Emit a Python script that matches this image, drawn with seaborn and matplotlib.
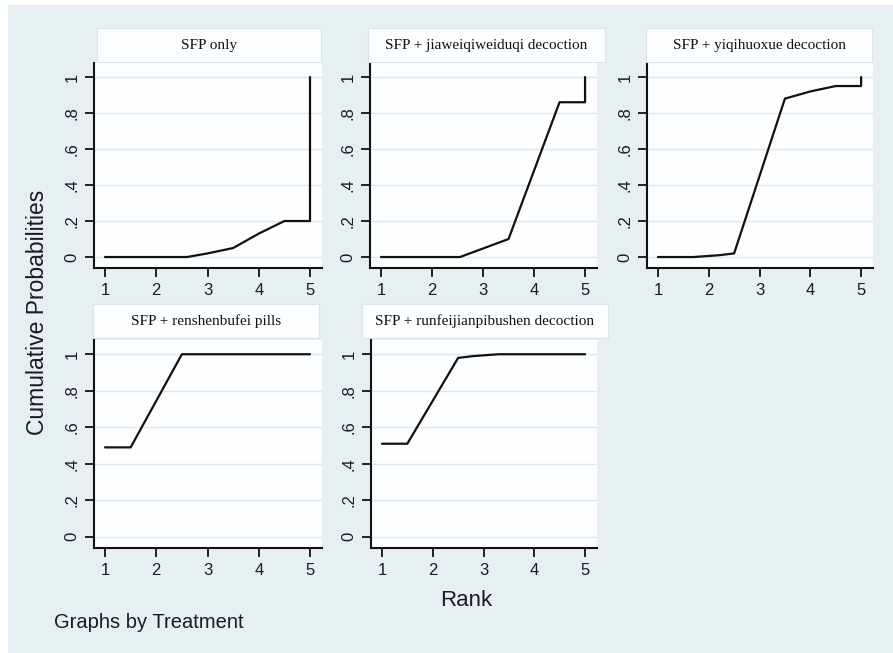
"""Cumulative rank probability curves, one panel per treatment (Stata style)."""

import matplotlib

matplotlib.use("Agg")
import matplotlib.pyplot as plt
import pandas as pd
import seaborn as sns
from matplotlib.patches import Rectangle

TREATMENTS = [
    "SFP only",
    "SFP + jiaweiqiweiduqi decoction",
    "SFP + yiqihuoxue decoction",
    "SFP + renshenbufei pills",
    "SFP + runfeijianpibushen decoction",
]

# curve vertices (rank, cumulative probability)
sfp_only_rank = [1, 2.6, 3.0, 3.5, 4.0, 4.5, 5.0, 5.0]
sfp_only_prob = [0, 0, 0.02, 0.05, 0.13, 0.20, 0.20, 1.0]

jiawei_rank = [1, 2.55, 3.5, 4.5, 5.0, 5.0]
jiawei_prob = [0, 0, 0.10, 0.86, 0.86, 1.0]

yiqi_rank = [1, 1.7, 2.2, 2.5, 3.5, 4.0, 4.5, 5.0, 5.0]
yiqi_prob = [0, 0, 0.01, 0.02, 0.88, 0.92, 0.95, 0.95, 1.0]

renshen_rank = [1, 1.5, 2.5, 5.0]
renshen_prob = [0.49, 0.49, 1.0, 1.0]

runfei_rank = [1, 1.5, 2.5, 2.8, 3.3, 5.0]
runfei_prob = [0.51, 0.51, 0.98, 0.99, 1.0, 1.0]

X_TICKS = [1, 2, 3, 4, 5]
Y_TICKS = [0, 0.2, 0.4, 0.6, 0.8, 1.0]
Y_TICK_LABELS = ["0", ".2", ".4", ".6", ".8", "1"]

BG = "#e7eff3"
GRID = "#dbe8ef"
W, H = 893, 653

# plot regions in pixels: left, right, top, bottom
PANELS = [
    (94, 322, 63, 268),
    (370, 597, 63, 268),
    (647, 873, 63, 268),
    (94, 322, 340, 548),
    (371, 597, 340, 548),
]
# title strips in pixels: left, right, top, bottom
STRIPS = [
    (97, 321, 28, 62),
    (368, 605, 28, 62),
    (646, 872, 28, 62),
    (93, 319, 304, 338),
    (362, 608, 304, 338),
]


def frac(left, right, top, bottom):
    return [left / W, 1 - bottom / H, (right - left) / W, (bottom - top) / H]


def main() -> None:
    sns.set_theme(style="white")
    plt.rcParams["font.family"] = ["Liberation Sans", "DejaVu Sans"]

    curves = [
        (sfp_only_rank, sfp_only_prob),
        (jiawei_rank, jiawei_prob),
        (yiqi_rank, yiqi_prob),
        (renshen_rank, renshen_prob),
        (runfei_rank, runfei_prob),
    ]
    frames = []
    for name, (rank, prob) in zip(TREATMENTS, curves):
        frames.append(pd.DataFrame({"Treatment": name, "Rank": rank, "Prob": prob}))
    df = pd.concat(frames, ignore_index=True)

    fig = plt.figure(figsize=(W / 100, H / 100), dpi=100, facecolor="white")
    fig.patches.append(
        Rectangle((8 / W, 0), 1, 1 - 5 / H, transform=fig.transFigure,
                  facecolor=BG, edgecolor="none", zorder=-10)
    )

    for name, box, strip in zip(TREATMENTS, PANELS, STRIPS):
        ax = fig.add_axes(frac(*box))
        ax.set_facecolor("#fdfeff")
        sub = df[df["Treatment"] == name]
        sns.lineplot(data=sub, x="Rank", y="Prob", sort=False, estimator=None,
                     color="#111111", linewidth=1.6, ax=ax)
        ax.set_xlim(0.785, 5.234)
        ax.set_ylim(-0.061, 1.078)
        ax.set_xticks(X_TICKS)
        ax.set_yticks(Y_TICKS)
        ax.set_yticklabels(Y_TICK_LABELS, rotation=90, va="center")
        for y in Y_TICKS:
            ax.axhline(y, color=GRID, linewidth=1.0, zorder=0)
        for side in ("top", "right"):
            ax.spines[side].set_visible(False)
        for side in ("left", "bottom"):
            ax.spines[side].set_color("#111111")
            ax.spines[side].set_linewidth(1.5)
        ax.tick_params(axis="both", direction="out", length=6.5, width=1.3,
                       color="#111111", labelsize=12, labelcolor="#1a1a2a",
                       left=True, bottom=True, pad=4)
        ax.set_xlabel("")
        ax.set_ylabel("")

        # title strip above the plot region
        tb = frac(*strip)
        fig.patches.append(
            Rectangle((tb[0], tb[1]), tb[2], tb[3], transform=fig.transFigure,
                      facecolor="#fcfdfe", edgecolor="#d8e3ea", linewidth=0.8)
        )
        fig.text(tb[0] + tb[2] / 2, tb[1] + tb[3] / 2, name,
                 family=["Liberation Serif", "DejaVu Serif"], fontsize=11,
                 ha="center", va="center", color="#111111")

    fig.text(38 / W, 1 - 312 / H, "Cumulative Probabilities", rotation=90,
             fontsize=16.5, ha="center", va="center", color="#1a1a2a")
    fig.text(466 / W, 1 - 600 / H, "Rank", fontsize=16,
             ha="center", va="center", color="#1a1a2a")
    fig.text(54 / W, 1 - 622 / H, "Graphs by Treatment", fontsize=14.5,
             ha="left", va="center", color="#1a1a2a")

    fig.savefig("out.png", dpi=100, facecolor=fig.get_facecolor())
    plt.close(fig)


if __name__ == "__main__":
    main()
